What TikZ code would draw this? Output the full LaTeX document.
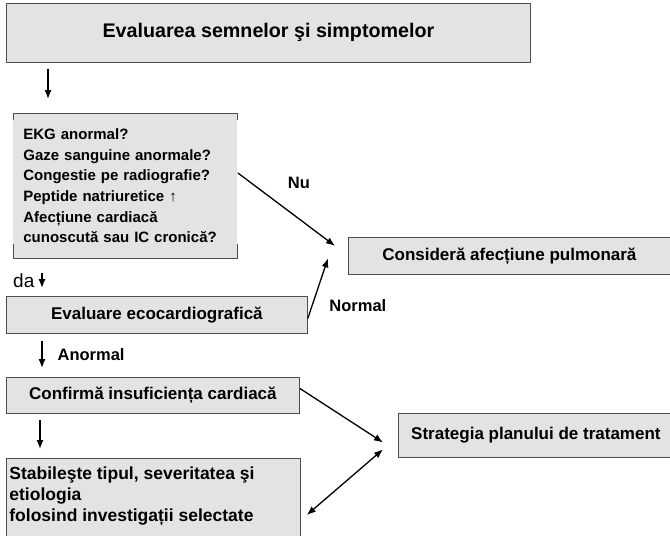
\documentclass[tikz,border=0pt]{standalone}
\usepackage{fontspec}
\setmainfont{Liberation Sans}
\usepackage{tikz}
\usetikzlibrary{arrows.meta,calc}
\definecolor{boxgray}{HTML}{E3E3E3}
\definecolor{edgegray}{HTML}{4D4D4D}
\begin{document}
\begin{tikzpicture}[x=1pt,y=-1pt,
  box/.style={draw=edgegray,line width=0.8pt,fill=boxgray,inner sep=0pt,font=\bfseries\fontsize{17}{20}\selectfont},
  edge/.style={draw=edgegray,line width=0.8pt},
  arr/.style={line width=1.3pt,-{Latex[length=9pt,width=7pt]}},
  dbl/.style={line width=1.3pt,{Latex[length=9pt,width=7pt]}-{Latex[length=9pt,width=7pt]}},
  lbl/.style={inner sep=0pt,font=\bfseries\fontsize{16.5}{20}\selectfont}]
\useasboundingbox (0,0) rectangle (670,536);
\clip (0,0) rectangle (670,536);
\node[box,anchor=north west,minimum width=524pt,minimum height=59pt,font=\bfseries\fontsize{19.7}{24}\selectfont] (eval) at (6,3) {Evaluarea semnelor şi simptomelor};
\node[box,draw=none,anchor=north west,minimum height=145pt,text width=204pt,align=left,inner xsep=10pt,font=\bfseries\fontsize{15}{20.6}\selectfont] (q) at (13,113) {EKG anormal?\\Gaze sanguine anormale?\\Congestie pe radiografie?\\Peptide natriuretice ↑\\Afecțiune cardiacă\\cunoscută sau IC cronică?};
\draw[edge] ([yshift=-7pt]q.north west) -- (q.north west) -- (q.north east) -- ([yshift=-7pt]q.north east);
\draw[edge] ([yshift=15pt]q.south west) -- (q.south west) -- (q.south east) -- ([yshift=15pt]q.south east);
\node[box,anchor=north west,minimum width=301pt,minimum height=37pt] (eco) at (6,296) {Evaluare ecocardiografică};
\node[box,anchor=north west,minimum width=322pt,minimum height=37pt] (pulm) at (348,237) {Consideră afecțiune pulmonară};
\node[box,anchor=north west,minimum width=293pt,minimum height=36pt] (conf) at (6,377) {Confirmă insuficiența cardiacă};
\node[box,anchor=north west,minimum width=275pt,minimum height=44pt] (strat) at (398,413) {Strategia planului de tratament};
\node[box,anchor=north west,inner xsep=3pt,inner ysep=8pt,font=\bfseries\fontsize{17.5}{21}\selectfont] (stab) at (6,458) {\parbox[t][80pt][t]{288pt}{Stabileşte tipul, severitatea şi\\etiologia\\folosind investigații selectate}};

\draw[arr] ([xshift=42pt,yshift=-6pt]eval.south west) -- ([xshift=35pt,yshift=14pt]q.north west);
\draw[arr] ([xshift=29pt,yshift=-14pt]q.south west) -- ([xshift=36pt,yshift=8pt]eco.north west)
  node[pos=0.5,anchor=east,inner sep=0pt,xshift=-7pt,font=\fontsize{19}{22}\selectfont] (da) {da};
\draw[arr] ([yshift=13pt]q.east) -- ([xshift=-13pt,yshift=10pt]pulm.west)
  node[lbl,pos=0.3,xshift=32pt,yshift=12pt] (nu) {Nu};
\draw[arr] ([yshift=-3.5pt]eco.east) -- ([xshift=-20pt,yshift=-2.5pt]pulm.west)
  node[lbl,pos=0.5,xshift=40pt,yshift=-17pt] (normal) {Normal};
\draw[arr] ([xshift=36pt,yshift=-7pt]eco.south west) -- ([xshift=36pt,yshift=9pt]conf.north west)
  node[lbl,midway,anchor=west,xshift=15pt] (anormal) {Anormal};
\draw[arr] ([yshift=7pt]conf.east) -- ([xshift=-15pt,yshift=-7pt]strat.west);
\draw[arr] ([xshift=34pt,yshift=-6pt]conf.south west) -- ([xshift=34pt,yshift=9pt]stab.north west);
\draw[dbl] ([xshift=-15pt,yshift=-14pt]strat.west) -- ([xshift=6pt,yshift=-57pt]stab.north east);
\end{tikzpicture}
\end{document}
